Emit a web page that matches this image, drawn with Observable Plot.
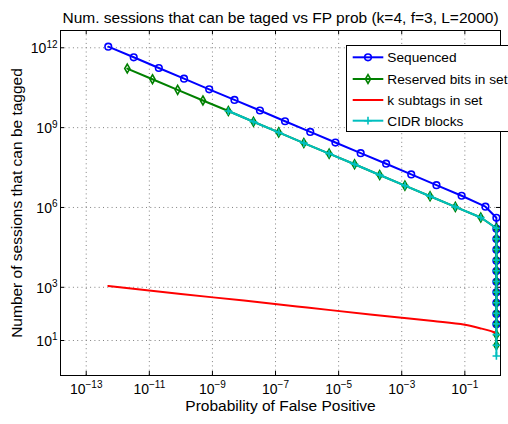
<!DOCTYPE html>
<html><head><meta charset="utf-8">
<script src="https://cdn.jsdelivr.net/npm/d3@7"></script>
<script src="https://cdn.jsdelivr.net/npm/@observablehq/plot@0.6"></script>
<style>
html,body{margin:0;padding:0;background:#fff;overflow:hidden}
svg{font-family:"Liberation Sans",Arial,Helvetica,sans-serif;overflow:hidden}
</style>
</head><body><div id="chart"></div>
<script>
const titleText = "Num. sessions that can be taged vs FP prob (k=4, f=3, L=2000)";
const xLabel = "Probability of False Positive";
const yLabel = "Number of sessions that can be tagged";
const seriesNames = ["Sequenced", "Reserved bits in set", "k subtags in set", "CIDR blocks"];
const seriesColors = ["#0000ff", "#008000", "#ff0000", "#00bfbf"];

const xTicks = [1e-13, 1e-11, 1e-9, 1e-7, 1e-5, 1e-3, 1e-1];
const yTicks = [1e1, 1e3, 1e6, 1e9, 1e12];

// Sequenced
const seqFP = [5.0e-13, 3.2e-12, 2.0e-11, 1.26e-10, 7.9e-10, 5.0e-9, 3.2e-8, 2.0e-7, 1.26e-6, 7.9e-6, 5.0e-5, 3.2e-4, 2.0e-3, 1.26e-2, 7.9e-2, 0.45, 1.0,
  1.0, 1.0, 1.0, 1.0, 1.0, 1.0, 1.0, 1.0, 1.0, 1.0];
const seqN = [1.1e12, 4.4e11, 1.74e11, 6.9e10, 2.75e10, 1.1e10, 4.4e9, 1.74e9, 6.9e8, 2.75e8, 1.1e8, 4.4e7, 1.74e7, 6.9e6, 2.75e6, 1.07e6, 4.1e5,
  1.6e5, 6.5e4, 2.6e4, 1.0e4, 4.1e3, 1.6e3, 650, 260, 100, 41];

// Reserved bits in set
const resFP = [2.0e-12, 1.26e-11, 7.9e-11, 5.0e-10, 3.2e-9, 2.0e-8, 1.26e-7, 7.9e-7, 5.0e-6, 3.2e-5, 2.0e-4, 1.26e-3, 7.9e-3, 5.0e-2, 0.32, 1.0,
  1.0, 1.0, 1.0, 1.0, 1.0, 1.0, 1.0, 1.0, 1.0, 1.0, 1.0];
const resN = [1.66e11, 6.6e10, 2.63e10, 1.05e10, 4.2e9, 1.66e9, 6.6e8, 2.63e8, 1.05e8, 4.2e7, 1.66e7, 6.6e6, 2.63e6, 1.05e6, 4.2e5, 1.66e5,
  6.6e4, 2.63e4, 1.05e4, 4.2e3, 1.66e3, 660, 263, 105, 42, 16.6, 6.6];

// k subtags in set
const subFP = [5.0e-13, 1e-10, 1e-8, 1e-6, 1e-4, 1e-3, 1e-2, 0.1, 0.3, 0.56, 0.8, 0.95];
const subN = [1120, 560, 316, 174, 95, 72, 54, 39, 29, 24, 21, 19.5];

// CIDR blocks
const cidrFP = [3.2e-9, 2.0e-8, 1.26e-7, 7.9e-7, 5.0e-6, 3.2e-5, 2.0e-4, 1.26e-3, 7.9e-3, 5.0e-2, 0.32, 1.0,
  1.0, 1.0, 1.0, 1.0, 1.0, 1.0, 1.0, 1.0, 1.0, 1.0, 1.0, 1.0];
const cidrN = [4.2e9, 1.66e9, 6.6e8, 2.63e8, 1.05e8, 4.2e7, 1.66e7, 6.6e6, 2.63e6, 1.05e6, 4.2e5, 1.66e5,
  6.6e4, 2.63e4, 1.05e4, 4.2e3, 1.66e3, 660, 263, 105, 42, 16.6, 6.6, 2.63];

const zip = (xs, ys) => xs.map((x, i) => ({fp: x, n: ys[i]}));
const seq = zip(seqFP, seqN), res = zip(resFP, resN), sub = zip(subFP, subN), cidr = zip(cidrFP, cidrN);

const xDom = [10 ** -13.815, 10 ** 0.13];
const yDom = [10 ** -0.315, 10 ** 12.65];
const tk = 4; // tick length px
const xPxDec = 31.55, yPxDec = 26.61;
const xIn = 10 ** (tk / xPxDec), yIn = 10 ** (tk / yPxDec);
const sup = d => "10^" + String(Math.round(Math.log10(d))).replace("-", "\u2212");
const grid = {stroke: "#808080", strokeDasharray: "1,3.3", strokeWidth: 1};
const rCircle = 3.3, rDiamond = 2.7, rPlus = 2.6;

const chart = Plot.plot({
  width: 508, height: 424,
  marginLeft: 60, marginRight: 8, marginTop: 30, marginBottom: 49,
  x: {type: "log", domain: xDom, axis: null},
  y: {type: "log", domain: yDom, axis: null},
  style: {fontFamily: '"Liberation Sans",Arial,sans-serif', fontSize: "14px", color: "#000", background: "#fff"},
  marks: [
    Plot.ruleX(xTicks, {x: d => d, ...grid}),
    Plot.ruleY(yTicks, {y: d => d, ...grid}),
    Plot.ruleX(xTicks, {x: d => d, y1: yDom[0], y2: yDom[0] * yIn, stroke: "#000"}),
    Plot.ruleX(xTicks, {x: d => d, y1: yDom[1], y2: yDom[1] / yIn, stroke: "#000"}),
    Plot.ruleY(yTicks, {y: d => d, x1: xDom[0], x2: xDom[0] * xIn, stroke: "#000"}),
    Plot.ruleY(yTicks, {y: d => d, x1: xDom[1], x2: xDom[1] / xIn, stroke: "#000"}),
    Plot.text(xTicks, {x: d => d, text: sup, frameAnchor: "bottom", textAnchor: "middle", dy: 18, fontSize: 14}),
    Plot.text(yTicks, {y: d => d, text: sup, frameAnchor: "left", textAnchor: "end", dx: -3, dy: 1, fontSize: 14}),
    Plot.text([xLabel], {text: d => d, frameAnchor: "bottom", textAnchor: "middle", dy: 35, fontSize: 15.5}),
    Plot.text([yLabel], {text: d => d, frameAnchor: "left", textAnchor: "middle", rotate: -90, dx: -43, fontSize: 15.5}),
    Plot.text([titleText], {text: d => d, frameAnchor: "top", textAnchor: "middle", dy: -19, fontSize: 15.5}),
    Plot.line(seq, {x: "fp", y: "n", stroke: seriesColors[0], strokeWidth: 2}),
    Plot.dot(seq, {x: "fp", y: "n", symbol: "circle", r: rCircle, stroke: seriesColors[0], fill: "none", strokeWidth: 1.6}),
    Plot.line(res, {x: "fp", y: "n", stroke: seriesColors[1], strokeWidth: 2}),
    Plot.dot(res, {x: "fp", y: "n", symbol: "diamond", r: rDiamond, stroke: seriesColors[1], fill: "none", strokeWidth: 1.6}),
    Plot.line(sub, {x: "fp", y: "n", stroke: seriesColors[2], strokeWidth: 2, curve: "monotone-x"}),
    Plot.line(cidr, {x: "fp", y: "n", stroke: seriesColors[3], strokeWidth: 2}),
    Plot.dot(cidr, {x: "fp", y: "n", symbol: "plus", r: rPlus, stroke: seriesColors[3], fill: "none", strokeWidth: 1.6}),
    Plot.frame({stroke: "#000", strokeWidth: 1})
  ]
});

// superscript exponents
d3.select(chart).selectAll("text").each(function () {
  const t = this.textContent;
  if (/^10\^/.test(t)) {
    const exp = t.slice(3);
    this.textContent = "";
    const s = d3.select(this);
    s.append("tspan").text("10");
    s.append("tspan").attr("dy", "-0.55em").attr("font-size", "10px").text(exp);
  }
});

// legend
const svg = d3.select(chart);
const lg = svg.append("g").attr("font-size", "13.7px").attr("text-anchor", "start");
lg.append("rect").attr("x", 346.5).attr("y", 45.5).attr("width", 200).attr("height", 86)
  .attr("fill", "#fff").attr("stroke", "#000").attr("stroke-width", 1);
const ly = [57.3, 79, 100, 120.7];
const syms = [d3.symbolCircle, d3.symbolDiamond, null, d3.symbolPlus];
const symSize = [Math.PI * rCircle * rCircle, Math.PI * rDiamond * rDiamond, 0, Math.PI * rPlus * rPlus];
seriesNames.forEach((name, i) => {
  lg.append("line").attr("x1", 352.7).attr("x2", 383.3).attr("y1", ly[i]).attr("y2", ly[i])
    .attr("stroke", seriesColors[i]).attr("stroke-width", 2);
  if (syms[i]) {
    lg.append("path").attr("transform", `translate(368,${ly[i]})`)
      .attr("d", d3.symbol(syms[i], symSize[i])())
      .attr("fill", "none").attr("stroke", seriesColors[i]).attr("stroke-width", 1.6);
  }
  lg.append("text").attr("x", 387.3).attr("y", ly[i] + 5).attr("fill", "#000").text(name);
});

document.getElementById("chart").appendChild(chart);
</script>
</body></html>
